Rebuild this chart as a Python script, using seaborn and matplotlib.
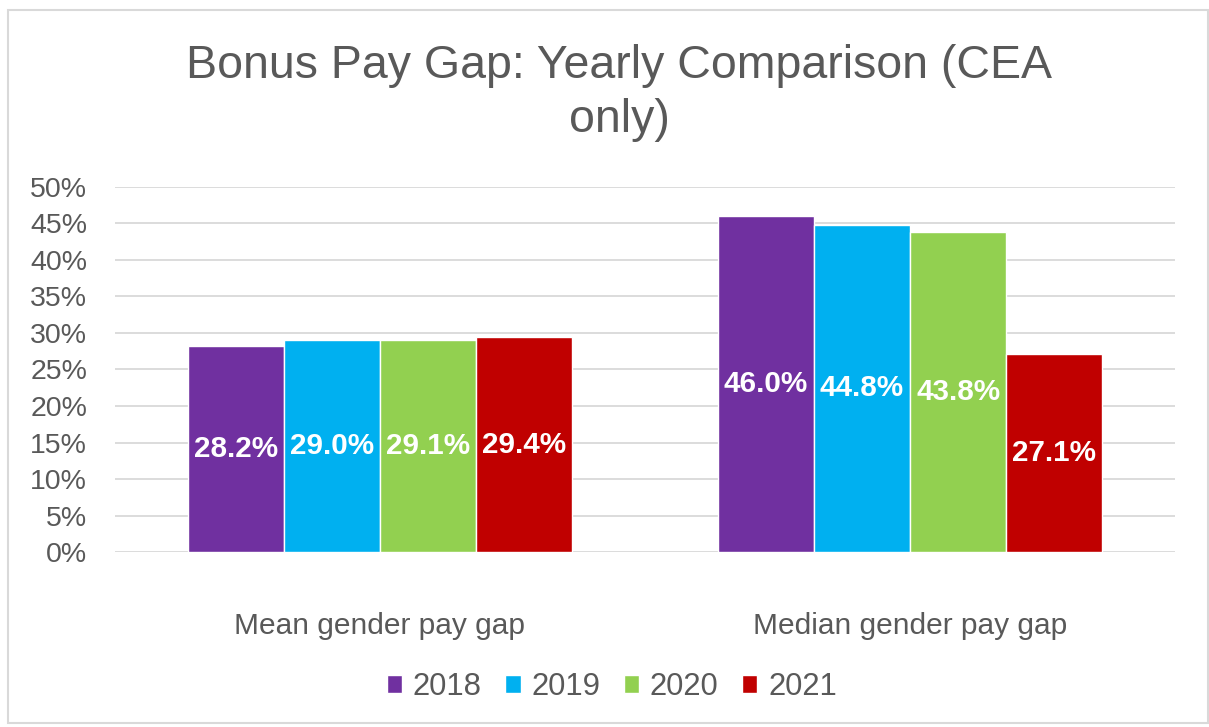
import matplotlib
matplotlib.use("Agg")
import matplotlib.pyplot as plt
import seaborn as sns
import pandas as pd
from matplotlib.patches import Rectangle

categories = ["Mean gender pay gap", "Median gender pay gap"]
years = ["2018", "2019", "2020", "2021"]
mean_values = [28.2, 29.0, 29.1, 29.4]
median_values = [46.0, 44.8, 43.8, 27.1]
colors = ["#7030A0", "#00B0F0", "#92D050", "#C00000"]
yticks = [0, 5, 10, 15, 20, 25, 30, 35, 40, 45, 50]

rows = []
for y, v in zip(years, mean_values):
    rows.append({"category": categories[0], "year": y, "value": v})
for y, v in zip(years, median_values):
    rows.append({"category": categories[1], "year": y, "value": v})
df = pd.DataFrame(rows)

sns.set_theme(style="white")
plt.rcParams['font.family'] = ['Liberation Sans', 'DejaVu Sans']

fig = plt.figure(figsize=(12.09, 7.27), dpi=100)
ax = fig.add_axes([0.095, 0.2407, 0.877, 0.5021])

sns.barplot(data=df, x="category", y="value", hue="year", palette=colors,
            width=0.725, gap=0, ax=ax, legend=True, saturation=1, errorbar=None)

ax.set_ylim(0, 50)
ax.set_xlim(-0.5, 1.5)
ax.set_yticks(yticks)
ax.set_yticklabels([f"{t}%" for t in yticks], fontsize=20.5, color="#595959")
ax.yaxis.grid(True, color="#D9D9D9", linewidth=1.3)
ax.set_axisbelow(True)
for s in ax.spines.values():
    s.set_visible(False)
ax.tick_params(axis="y", length=0, pad=20)
ax.tick_params(axis="x", length=0, pad=43)
for lbl in ax.get_xticklabels():
    lbl.set_fontsize(21.5)
    lbl.set_color("#595959")
ax.set_xlabel("")
ax.set_ylabel("")

for cont in ax.containers:
    labels = [f"{b.get_height():.1f}%" for b in cont]
    ax.bar_label(cont, labels=labels, label_type="center", color="white",
                 fontsize=21.3, fontweight="bold")

handles, lbls = ax.get_legend_handles_labels()
leg = ax.legend(handles, lbls, loc="center", bbox_to_anchor=(0.506, 0.055),
                bbox_transform=fig.transFigure, ncol=4, frameon=False,
                fontsize=22.3, handlelength=0.5, handleheight=0.5,
                handletextpad=0.35, columnspacing=0.75)
for t in leg.get_texts():
    t.set_color("#595959")

fig.suptitle("Bonus Pay Gap: Yearly Comparison (CEA\nonly)", x=0.512, y=0.94,
             fontsize=33.5, color="#595959", linespacing=1.3, va="top")

fig.patches.append(Rectangle((8/1209, 0.005), 1 - 9/1209, 1 - 10/727 - 0.005,
                             transform=fig.transFigure, fill=False,
                             edgecolor="#D9D9D9", linewidth=1.5))

fig.savefig("out.png", dpi=100, facecolor="white")
